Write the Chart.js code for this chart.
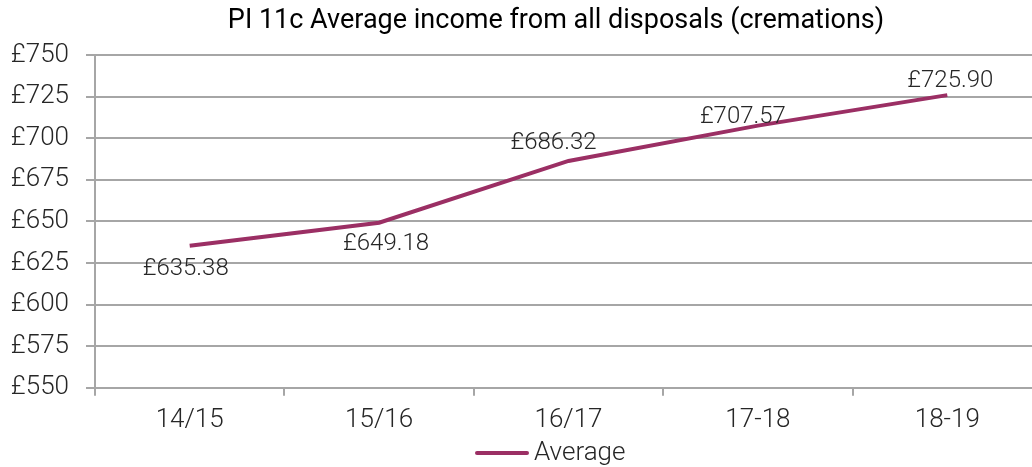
<!doctype html>
<html>
<head>
	<meta charset="utf-8">
	<title>PI 11c Average income</title>
	<script src="https://cdn.jsdelivr.net/npm/chart.js@4/dist/chart.umd.min.js"></script>
	<style>
		html, body {margin:0; padding:0; background:#fff; overflow:hidden}
		#wrap {width:1032px; height:467px; overflow:hidden}
	</style>
</head>
<body>
	<div id="wrap"><canvas id="canvas" width="1042" height="467"></canvas></div>
	<script>
		var chartTitle = 'PI 11c Average income from all disposals (cremations)';
		var seriesName = 'Average';
		var years = ['14/15', '15/16', '16/17', '17-18', '18-19'];
		var average = [635.38, 649.18, 686.32, 707.57, 725.90];
		var yTicks = [550, 575, 600, 625, 650, 675, 700, 725, 750];

		var lineColor = '#9b2f64';
		// where each value label sits relative to its point (dx, dy)
		var labelShift = [[-4, 23], [7, 21], [-15, -18], [-15, -9], [3, -14]];

		var pointLabels = {
			id: 'pointLabels',
			afterDatasetsDraw: function (chart) {
				var c = chart.ctx;
				var pts = chart.getDatasetMeta(0).data;
				c.save();
				c.font = '300 24px Roboto';
				c.fillStyle = '#262626';
				c.textAlign = 'center';
				c.textBaseline = 'middle';
				pts.forEach(function (p, i) {
					c.fillText('£' + average[i].toFixed(2), p.x + labelShift[i][0], p.y + labelShift[i][1]);
				});
				c.restore();
			}
		};

		// title and legend sit off-centre in the original, so draw them by hand
		var titleAndKey = {
			id: 'titleAndKey',
			afterDraw: function (chart) {
				var c = chart.ctx;
				c.save();
				c.font = '400 27px Roboto';
				c.fillStyle = '#000';
				c.textAlign = 'center';
				c.textBaseline = 'middle';
				c.fillText(chartTitle, 556, 21);

				c.strokeStyle = lineColor;
				c.lineWidth = 4;
				c.lineCap = 'round';
				c.beginPath();
				c.moveTo(477, 453);
				c.lineTo(527, 453);
				c.stroke();
				c.font = '300 26px Roboto';
				c.fillStyle = '#262626';
				c.textAlign = 'left';
				c.fillText(seriesName, 534, 453);
				c.restore();
			}
		};

		var ctx = document.getElementById('canvas').getContext('2d');
		var chart = new Chart(ctx, {
			type: 'line',
			data: {
				labels: years,
				datasets: [{
					label: seriesName,
					data: average,
					borderColor: lineColor,
					backgroundColor: lineColor,
					borderWidth: 4,
					pointRadius: 0,
					tension: 0
				}]
			},
			options: {
				responsive: false,
				animation: false,
				layout: {padding: {left: 2, right: 0, top: 55, bottom: 22}},
				plugins: {
					title: {display: false},
					legend: {display: false},
					tooltip: {enabled: false}
				},
				scales: {
					x: {
						offset: true,
						grid: {display: true, offset: true, drawOnChartArea: false, color: '#a6a6a6', tickLength: 8, lineWidth: 2},
						border: {color: '#a6a6a6', width: 2},
						ticks: {color: '#262626', font: {family: 'Roboto', size: 26, weight: '300'}, padding: 9}
					},
					y: {
						min: 550,
						max: 750,
						afterBuildTicks: function (axis) {
							axis.ticks = yTicks.map(function (v) { return {value: v}; });
						},
						afterFit: function (axis) { axis.width = 93; },
						grid: {color: '#a6a6a6', lineWidth: 2, tickLength: 9},
						border: {color: '#a6a6a6', width: 2},
						ticks: {
							color: '#262626',
							font: {family: 'Roboto', size: 26, weight: '300'},
							padding: 17,
							callback: function (v) { return '£' + v; }
						}
					}
				}
			},
			plugins: [pointLabels, titleAndKey]
		});
	</script>
</body>
</html>
